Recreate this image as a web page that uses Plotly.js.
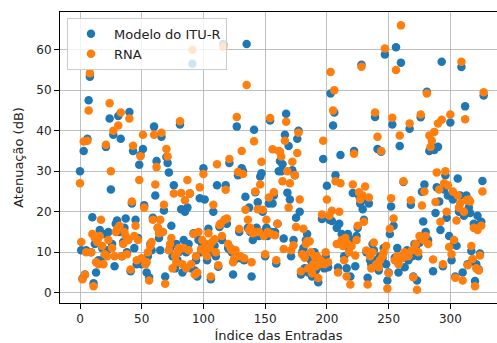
<!DOCTYPE html>
<html>
<head>
<meta charset="utf-8">
<script src="https://cdn.plot.ly/plotly-3.0.1.min.js"></script>
<style>html,body{margin:0;padding:0;background:#fff;}#chart{width:497px;height:343px;}</style>
</head>
<body>
<div id="chart"></div>
<script>
const seriesNames = ["Modelo do ITU-R", "RNA"];
const xTitle = "Índice das Entradas";
const yTitle = "Atenuação (dB)";

const ituR = [
  30, 10.5, 3.5, 35, 4.5, 10.5, 38, 47.5, 53.3, 10,
  18.6, 2.3, 12, 5, 13, 8, 15.5, 14.5, 11, 14.5,
  9, 36, 10.5, 15, 43, 25.5, 12, 39, 6.5, 17,
  17.8, 43.6, 15, 38, 9, 12.5, 16, 18.3, 10, 13,
  44.6, 5.3, 22, 35, 11, 18, 7, 13.5, 31.6, 34,
  7, 35.5, 21.6, 8, 5, 9, 3.8, 12, 10.5, 18.5,
  41, 24, 32.5, 16, 13.5, 10.5, 38.5, 15, 20.3, 4,
  33.5, 32, 29.7, 11, 16.5, 9, 26.5, 6, 12, 8,
  10, 41.5, 20.6, 5, 13, 20, 10, 21, 12, 24.5,
  6, 56.5, 14.7, 5.5, 8, 4, 13, 23.3, 10, 12,
  30.7, 23, 11, 8, 15.8, 10, 3.3, 12, 20, 11.6,
  9, 26.5, 6.4, 16.2, 17, 13, 61.4, 17.2, 26.5, 17,
  11, 32, 10.5, 10, 4.5, 8, 9.5, 41, 29, 15,
  8.5, 30.7, 30, 8, 23.7, 61.4, 16, 21, 15, 4,
  13, 40.2, 24.8, 16, 22.3, 14, 28.7, 29.5, 20, 15,
  9, 16, 14, 22, 42.5, 15, 22, 24, 15, 7.2,
  17, 30, 32.5, 30, 31.7, 13.4, 39, 44.2, 24.7, 36.2,
  23, 9, 30.2, 13, 29, 18.5, 38, 40, 20, 4.5,
  10, 11, 6, 13, 14.5, 5, 9, 8, 4, 8.5,
  10, 5.5, 7, 2.6, 6.5, 8, 18.2, 33, 6, 9,
  26.4, 6.3, 18, 49.2, 17.7, 41.3, 44.5, 29, 16, 6.2,
  17, 34, 14.5, 12, 9, 13, 6, 14.5, 11, 4,
  13, 24.6, 35, 6.5, 14, 16, 24, 22, 56.3, 20.6,
  18, 23, 10, 3.7, 22, 8, 7, 12, 10.5, 43.4,
  8, 35.5, 5.5, 9, 34.8, 8.5, 11, 58.8, 7, 3,
  5, 14.5, 21.3, 41.5, 16.5, 8.6, 60.6, 11, 5, 36.2,
  56.8, 9, 27.3, 6.3, 10, 10.5, 8, 40.5, 21.7, 9,
  4, 12, 11, 3, 9, 12.3, 43.3, 24.9, 17.6, 26.7,
  15, 49.6, 13, 35, 35.5, 36, 5.3, 35.2, 19.7, 26,
  36, 22.5, 15.5, 57, 6.5, 25.5, 29, 18.5, 24, 14,
  42, 8, 23, 12, 4, 11.6, 28.2, 20, 24, 55.7,
  5, 19, 46, 24, 7, 21, 19.7, 10.3, 8, 17,
  2.9, 7, 19, 5.7, 9.7, 17.5, 27.6, 48.7
];

const rna = [
  27, 12.5, 3.3, 37.3, 4.4, 10, 37.5, 45, 54.2, 10,
  14.5, 1.6, 13.5, 7.5, 12.5, 7, 14, 18, 11.5, 7,
  9.5, 36.5, 9, 13, 46.8, 30, 11, 40, 9, 15,
  15.7, 41.3, 16.5, 44.5, 9, 12, 15, 14, 9.5, 13,
  43, 5.7, 22.5, 36.3, 14, 16.5, 8, 13, 27.8, 33.7,
  8.5, 39, 21, 7, 7.5, 10, 3, 11.5, 12.5, 18,
  39, 26.7, 31, 16, 14.7, 18, 39.5, 15, 21.7, 2.2,
  35.5, 33.6, 10.5, 12, 13.5, 6, 24.5, 9, 7.5, 10,
  11, 42.3, 24.6, 7, 11, 22.8, 6, 27.8, 10.5, 24.5,
  7, 60, 14.5, 4.5, 9, 5, 15, 26, 10.7, 13,
  29.3, 10, 12, 9, 14.7, 11, 4, 12.5, 21.7, 13.2,
  10, 31.7, 6.8, 16.7, 17, 14, 60.7, 18, 25.4, 18.3,
  12, 33, 11, 10.5, 7.5, 8.5, 10.5, 43.4, 29.8, 15.7,
  9, 35, 29.3, 8.5, 20.5, 51.3, 18, 15.5, 16, 7.5,
  14.7, 37.4, 25, 15, 20.6, 15, 26.7, 32.3, 20.5, 14,
  9.5, 18, 15, 23.5, 43.1, 14.5, 35.4, 24.8, 14.2, 8,
  17, 35, 34.8, 33.6, 27.5, 10.8, 37.5, 42.2, 30, 21,
  27, 10.5, 32.3, 11.7, 29, 16.2, 34.5, 39.5, 23, 5.3,
  9.5, 15.8, 8.6, 12, 12.7, 6, 12.7, 10, 4.8, 7,
  9, 6.5, 9, 3.6, 7, 8, 19.3, 37.5, 7, 10,
  23, 7.5, 19, 54.5, 20.2, 45, 50, 27.5, 12, 5,
  20, 27, 13, 11.5, 8, 13.5, 4, 12, 10, 2,
  11.5, 26.7, 34.3, 9.2, 13, 16.5, 24.8, 23, 55.8, 24,
  17.5, 26.2, 10.4, 2, 23.5, 9, 6, 10, 12.4, 44.5,
  7, 38.5, 6.3, 8, 35, 9, 10, 60.3, 11.5, 1,
  4.8, 15.8, 23.3, 43.2, 18.3, 8, 55, 9, 7, 38.8,
  66, 8.5, 27.5, 10, 9, 9.5, 9, 41.8, 22.8, 10.5,
  3.8, 10.8, 12, 0.7, 10, 14, 44, 21.5, 13, 25,
  14, 49.2, 12, 38.8, 36, 37.5, 8.2, 39.7, 22.4, 29.7,
  41.8, 25.5, 17.5, 42.7, 7, 27, 30, 20, 26.5, 11.3,
  44, 9.5, 25, 13, 3.7, 17.8, 24, 21, 22, 57,
  3, 20, 42.8, 22.8, 6.8, 23, 22.5, 11.5, 8.3, 16,
  1.6, 6, 15.5, 5.5, 9.2, 16.5, 25, 49.5
];

const xTicks = [0, 50, 100, 150, 200, 250, 300];
const yTicks = [0, 10, 20, 30, 40, 50, 60];

const idx = ituR.map((_, i) => i);
const tickFont = {family: "DejaVu Sans, sans-serif", size: 12, color: "#222"};
const labelFont = {family: "DejaVu Sans, sans-serif", size: 13, color: "#222"};

const traces = [
  {x: idx, y: ituR, name: seriesNames[0], type: "scatter", mode: "markers",
   marker: {color: "#1f77b4", size: 8.5}},
  {x: idx, y: rna, name: seriesNames[1], type: "scatter", mode: "markers",
   marker: {color: "#ff7f0e", size: 8.5}}
];

const layout = {
  width: 497, height: 343,
  margin: {l: 60, r: 0, t: 12, b: 40},
  paper_bgcolor: "#fff", plot_bgcolor: "#fff",
  font: tickFont,
  showlegend: true,
  legend: {x: 0.016, y: 0.98, xanchor: "left", yanchor: "top",
           bgcolor: "rgba(255,255,255,0.8)", bordercolor: "#cccccc", borderwidth: 1,
           font: labelFont, tracegroupgap: 0, itemwidth: 36},
  xaxis: {range: [-16.2, 337.8], tickvals: xTicks, ticktext: xTicks.map(String),
          tickfont: tickFont,
          showgrid: true, gridcolor: "#b0b0b0", gridwidth: 0.8, zeroline: false,
          showline: true, linecolor: "#000", linewidth: 1, mirror: true,
          ticks: "outside", ticklen: 5, tickcolor: "#000",
          title: {text: xTitle, font: labelFont, standoff: 12}},
  yaxis: {range: [-2.55, 69.3], tickvals: yTicks, ticktext: yTicks.map(String),
          tickfont: tickFont,
          showgrid: true, gridcolor: "#b0b0b0", gridwidth: 0.8, zeroline: false,
          showline: true, linecolor: "#000", linewidth: 1,
          ticks: "outside", ticklen: 5, tickcolor: "#000",
          title: {text: yTitle, font: labelFont, standoff: 9}}
};

Plotly.newPlot("chart", traces, layout, {displayModeBar: false, staticPlot: true});
</script>
</body>
</html>
